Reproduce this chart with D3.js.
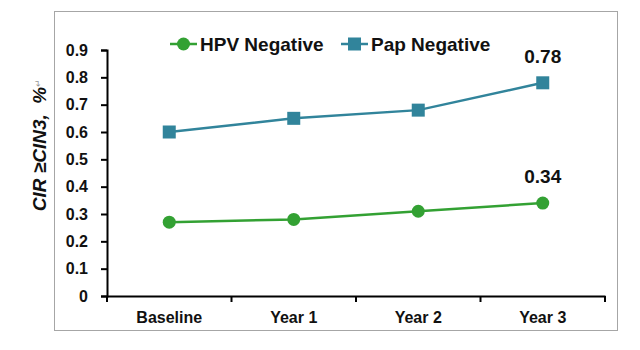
<!DOCTYPE html>
<html>
<head>
<meta charset="utf-8">
<script src="https://cdn.jsdelivr.net/npm/d3@7"></script>
<style>
  body { margin: 0; background: #fff; }
  text { font-family: "Liberation Sans", Arial, sans-serif; }
</style>
</head>
<body>
<div id="chart"></div>
<script>
// data
const categories = ["Baseline", "Year 1", "Year 2", "Year 3"];
const hpvNegative = [0.27, 0.28, 0.31, 0.34];
const papNegative = [0.60, 0.65, 0.68, 0.78];
const yTicks = [0, 0.1, 0.2, 0.3, 0.4, 0.5, 0.6, 0.7, 0.8, 0.9];
const seriesNames = ["HPV Negative", "Pap Negative"];
const colors = ["#33a133", "#31849b"];

const W = 640, H = 350;
const margin = {top: 50, right: 35, bottom: 54, left: 107},
      width = 605 - margin.left,
      height = 296 - margin.top;

const svg = d3.select("#chart")
    .append("svg")
    .attr("width", W)
    .attr("height", H);

// outer frame
svg.append("rect")
    .attr("x", 54.5).attr("y", 11.5)
    .attr("width", 563).attr("height", 319)
    .attr("fill", "none")
    .attr("stroke", "#a6a6a6")
    .attr("stroke-width", 1);

const g = svg.append("g")
    .attr("transform", `translate(${margin.left},${margin.top})`);

const xScale = d3.scaleBand()
    .domain(categories)
    .range([0, width]);

const yScale = d3.scaleLinear()
    .domain([0, 0.9])
    .range([height, 0]);

// Y axis
const yAxis = g.append("g")
    .call(d3.axisLeft(yScale).tickValues(yTicks).tickFormat(d => d === 0 ? "0" : d3.format(".1f")(d)).tickSize(6).tickPadding(13));
yAxis.select(".domain").attr("stroke", "#000").attr("stroke-width", 2);
yAxis.selectAll(".tick line").attr("stroke", "#000").attr("stroke-width", 2);
yAxis.selectAll("text")
    .style("font-size", "16px").style("font-weight", "bold").attr("fill", "#111");

// X axis with ticks at category boundaries
const xAxis = g.append("g")
    .attr("transform", `translate(0, ${height})`)
    .call(d3.axisBottom(xScale).tickSize(0).tickPadding(16));
xAxis.select(".domain").attr("stroke", "#000").attr("stroke-width", 2);
xAxis.selectAll("text")
    .style("font-size", "16px").style("font-weight", "bold").attr("fill", "#111");
const bounds = categories.map(c => xScale(c)).concat([width]);
xAxis.selectAll(".bound")
    .data(bounds)
    .join("line")
    .attr("class", "bound")
    .attr("x1", d => d).attr("x2", d => d)
    .attr("y1", 0).attr("y2", 6)
    .attr("stroke", "#000").attr("stroke-width", 2);

const cx = c => xScale(c) + xScale.bandwidth() / 2;

const line = d3.line()
    .x((d, i) => cx(categories[i]))
    .y(d => yScale(d));

// Pap negative line + squares
g.append("path")
    .datum(papNegative)
    .attr("fill", "none")
    .attr("stroke", colors[1])
    .attr("stroke-width", 2.5)
    .attr("d", line);
g.selectAll(".sq")
    .data(papNegative)
    .join("rect")
    .attr("class", "sq")
    .attr("x", (d, i) => cx(categories[i]) - 6.5)
    .attr("y", d => yScale(d) - 6.5)
    .attr("width", 13).attr("height", 13)
    .attr("fill", colors[1]);

// HPV negative line + circles
g.append("path")
    .datum(hpvNegative)
    .attr("fill", "none")
    .attr("stroke", colors[0])
    .attr("stroke-width", 2.5)
    .attr("d", line);
g.selectAll(".dot")
    .data(hpvNegative)
    .join("circle")
    .attr("class", "dot")
    .attr("cx", (d, i) => cx(categories[i]))
    .attr("cy", d => yScale(d))
    .attr("r", 6.5)
    .attr("fill", colors[0]);

// last-point labels
const last = categories.length - 1;
[papNegative, hpvNegative].forEach(s => {
    g.append("text")
        .attr("x", cx(categories[last]))
        .attr("y", yScale(s[last]) - 20)
        .attr("text-anchor", "middle")
        .style("font-size", "19px")
        .style("font-weight", "bold")
        .attr("fill", "#111")
        .text(s[last]);
});

// Legend
const legendX = [170, 341];
seriesNames.forEach((name, i) => {
    const lg = svg.append("g").attr("transform", `translate(${legendX[i]},44)`);
    lg.append("line")
        .attr("x1", 0).attr("x2", 27)
        .attr("stroke", colors[i]).attr("stroke-width", 2.5);
    if (i === 0) {
        lg.append("circle").attr("cx", 13.5).attr("r", 6.5).attr("fill", colors[i]);
    } else {
        lg.append("rect").attr("x", 7).attr("y", -6.5).attr("width", 13).attr("height", 13).attr("fill", colors[i]);
    }
    lg.append("text")
        .attr("x", 30)
        .attr("y", 7)
        .style("font-size", "19px")
        .style("font-weight", "bold")
        .attr("fill", "#111")
        .text(name);
});

// Y axis title
const yt = svg.append("text")
    .attr("transform", "translate(46,145) rotate(-90)")
    .attr("text-anchor", "middle")
    .style("font-size", "19px")
    .style("font-weight", "bold")
    .style("font-style", "italic")
    .attr("fill", "#111")
    .attr("xml:space", "preserve");
yt.append("tspan").text("CIR ≥CIN3,  %");
yt.append("tspan")
    .style("font-size", "9px")
    .style("font-weight", "normal")
    .style("font-style", "normal")
    .attr("fill", "#999")
    .attr("dy", -5)
    .text("↵");
</script>
</body>
</html>
